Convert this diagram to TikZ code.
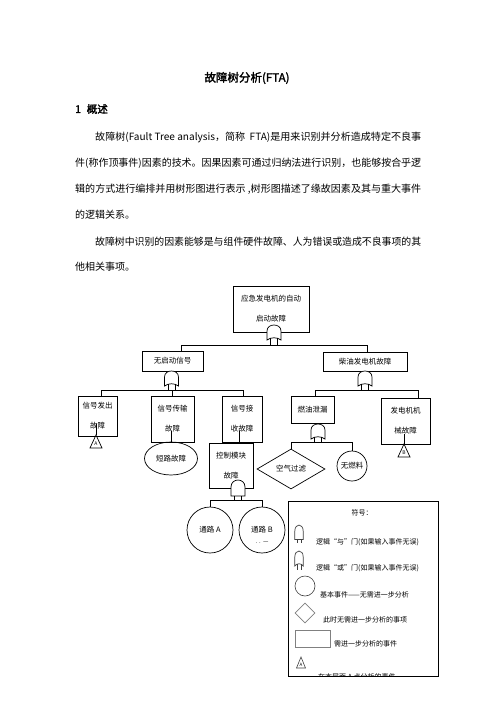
\documentclass[tikz,border=0pt]{standalone}
\usepackage{fontspec}
\usepackage{graphicx}
\setmainfont[AutoFakeBold=2]{Noto Sans CJK SC}
\usetikzlibrary{shapes.geometric,calc}
\tikzset{
  ln/.style={line width=0.7pt},
  box/.style={draw, line width=0.7pt, inner sep=0pt, align=center, font=\fontsize{7.5}{20}\selectfont},
  lbl/.style={inner sep=0pt, font=\fontsize{7.5}{9}\selectfont},
  para/.style={anchor=west, inner sep=0pt, font=\fontsize{10}{12}\selectfont},
  lgtext/.style={anchor=west, inner sep=0pt, font=\fontsize{7}{8}\selectfont},
  orgate/.pic={
    \draw[line width=0.7pt, fill=white] (-7,15) -- (-7,6) .. controls (-7,-2) and (7,-2) .. (7,6) -- (7,15) .. controls (3,12) and (-3,12) .. cycle;
    \draw[line width=0.7pt] (-3.5,13.4) -- (-3.5,19) (3.5,13.4) -- (3.5,19);
    \coordinate (-l) at (-3.5,19);
    \coordinate (-r) at (3.5,19);
  },
  andgate/.pic={
    \draw[line width=0.7pt, fill=white] (-7,16) -- (-7,7) .. controls (-7,-2.3) and (7,-2.3) .. (7,7) -- (7,16) -- cycle;
    \draw[line width=0.7pt] (-3.5,16) -- (-3.5,20) (3.5,16) -- (3.5,20);
    \coordinate (-l) at (-3.5,20);
    \coordinate (-r) at (3.5,20);
  }
}
\begin{document}
\begin{tikzpicture}[x=1pt,y=-1pt]
\useasboundingbox[fill=white] (0,0) rectangle (496,702);

% ---------- text ----------
\node[inner sep=0pt, font={\fontsize{11.5}{14}\selectfont\bfseries}] (title) at (247,78) {故障树分析(FTA)};
\node[anchor=west, inner sep=0pt, font={\fontsize{10.5}{12}\selectfont\bfseries}] (head) at (75,109) {1\hspace{0.55em}概述};
\node[para] (p1) at (95,137) {\resizebox{326pt}{\height}{故障树(Fault Tree analysis，简称\ \ FTA)是用来识别并分析造成特定不良事}};
\node[para] (p2) at (75,163) {\resizebox{346pt}{\height}{件(称作顶事件)因素的技术。因果因素可通过归纳法进行识别，也能够按合乎逻}};
\node[para] (p3) at (75,189) {\resizebox{346pt}{\height}{辑的方式进行编排并用树形图进行表示 ,树形图描述了缘故因素及其与重大事件}};
\node[para] (p4) at (75,215) {的逻辑关系。};
\node[para] (p5) at (95,242) {\resizebox{326pt}{\height}{故障树中识别的因素能够是与组件硬件故障、人为错误或造成不良事项的其}};
\node[para] (p6) at (75,267) {他相关事项。};

% ---------- boxes ----------
\node[box, minimum width=76, minimum height=46] (top) at (271,309) {应急发电机的自动\\启动故障};
\node[box, minimum width=61, minimum height=20] (nosig) at (172.5,361) {无启动信号};
\node[box, minimum width=84, minimum height=19] (diesel) at (365,361.5) {柴油发电机故障};
\node[box, minimum width=39, minimum height=40] (sigout) at (97.5,416) {信号发出\\故障};
\node[box, minimum width=43, minimum height=46] (sigtx) at (172.5,419) {信号传输\\故障};
\node[box, minimum width=40, minimum height=46] (sigrx) at (242,419) {信号接\\收故障};
\node[box, minimum width=44, minimum height=45] (ctrl) at (231,465.5) {控制模块\\故障};
\node[box, minimum width=43, minimum height=27] (fuel) at (312.5,409.5) {燃油泄漏};
\node[box, minimum width=49, minimum height=46] (gen) at (405.5,421) {发电机机\\械故障};

% ---------- basic events ----------
\node[draw, ln, ellipse, minimum width=53, minimum height=33, inner sep=0pt, font=\fontsize{7.5}{9}\selectfont] (short) at (171,458.5) {短路故障};
\node[draw, ln, diamond, minimum width=68, minimum height=40, inner sep=0pt, font=\fontsize{7.5}{9}\selectfont] (air) at (291,469) {空气过滤};
\node[draw, ln, circle, minimum size=30, inner sep=0pt, font=\fontsize{7.5}{9}\selectfont] (nofuel) at (352,466) {无燃料};
\node[draw, ln, circle, minimum size=46, inner sep=0pt, font=\fontsize{7.5}{9}\selectfont] (pathA) at (210,530) {通路 A};
\node[draw, ln, circle, minimum size=46, inner sep=0pt, font=\fontsize{7.5}{9}\selectfont] (pathB) at (262,530) {通路 B};
\node[inner sep=0pt, font=\fontsize{6}{7}\selectfont] (pathBx) at (262,543) {. .\ \,—};

% ---------- transfer triangles ----------
\coordinate (triA) at (96,435);
\draw[ln] (triA) -- ++(6,13) -- ++(-12,0) -- cycle;
\node[inner sep=0pt, font=\fontsize{5}{6}\selectfont] (triAl) at (96,444) {A};
\coordinate (triB) at (404,444);
\draw[ln] (triB) -- ++(6,13) -- ++(-12,0) -- cycle;
\node[inner sep=0pt, font=\fontsize{5}{6}\selectfont] (triBl) at (404,453) {B};

% ---------- stems from boxes ----------
\coordinate (s1) at (171,431);
\draw[ln] (s1) -- (short.north);
\coordinate (s2) at (239,431);
\draw[ln] (s2) -- (s2 |- ctrl.north);
\coordinate (s3) at (96,424);
\draw[ln] (s3) -- (triA);
\coordinate (s4) at (404,434);
\draw[ln] (s4) -- (triB);

% ---------- gates ----------
\pic (g1) at (274,325) {orgate};
\pic (g2) at (171.5,371) {orgate};
\pic (g3) at (365,371) {orgate};
\pic (g4) at (318,424) {orgate};
\pic (g5) at (238,480) {andgate};

% ---------- connectors ----------
\coordinate (bar1L) at (181,345);
\coordinate (bar1R) at (367,345);
\draw[ln] (bar1L |- nosig.north) -- (bar1L) -- (bar1R) -- (bar1R |- diesel.north);
\draw[ln] (g1-l) -- (g1-l |- bar1L) (g1-r) -- (g1-r |- bar1L);

\coordinate (bar2L) at (101,390);
\coordinate (bar2R) at (243,390);
\draw[ln] (bar2L |- sigout.north) -- (bar2L) -- (bar2R) -- (bar2R |- sigrx.north);
\draw[ln] (sigtx.north |- bar2L) -- (sigtx.north);
\draw[ln] (g2-l) -- (g2-l |- bar2L) (g2-r) -- (g2-r |- bar2L);

\coordinate (bar3L) at (315,390);
\coordinate (bar3R) at (418,390);
\draw[ln] (bar3L |- fuel.north) -- (bar3L) -- (bar3R) -- (bar3R |- gen.north);
\draw[ln] (g3-l) -- (g3-l |- bar3L) (g3-r) -- (g3-r |- bar3L);

\coordinate (bar4L) at (291,442);
\coordinate (bar4R) at (352,442);
\draw[ln] (air.north) -- (bar4L) -- (bar4R) -- (nofuel.north);
\draw[ln] (g4-l) -- (g4-l |- bar4L) (g4-r) -- (g4-r |- bar4L);

\coordinate (bar5L) at (210,500);
\coordinate (bar5R) at (262,500);
\draw[ln] (pathA.north) -- (bar5L) -- (bar5R) -- (pathB.north);
\draw[ln] (g5-l) -- (g5-l |- bar5L) (g5-r) -- (g5-r |- bar5L);

% ---------- legend ----------
\begin{scope}
\clip (288,501) rectangle (438,675.5);
\node[lgtext] (lg6) at (318,676.5) {在本层面 A 点分析的事件};
\end{scope}
\node[draw, line width=0.8pt, minimum width=150, minimum height=175, inner sep=0pt, anchor=north west] (legend) at (288,501) {};
\node[inner sep=0pt, font=\fontsize{7}{8}\selectfont] (lgt) at (362,513) {符号：};
\begin{scope}[black!75]
\pic[xscale=0.6, yscale=0.9] (la) at (299,525) {andgate};
\pic[xscale=0.6, yscale=1.0] (lo) at (299,551) {orgate};
\end{scope}
\node[lgtext] (lg1) at (316,542) {逻辑“与”门(如果输入事件无误)};
\node[lgtext] (lg2) at (316,568) {逻辑“或”门(如果输入事件无误)};
\node[draw=black!75, line width=0.6pt, circle, minimum size=20, inner sep=0pt] (lc) at (305,586) {};
\node[lgtext] (lg3) at (320,595) {基本事件——无需进一步分析};
\node[draw=black!50, line width=0.6pt, diamond, minimum width=20, minimum height=20, inner sep=0pt] (ld) at (305,613) {};
\node[lgtext] (lg4) at (323,620) {此时无需进一步分析的事项};
\node[draw=black!50, line width=0.6pt, minimum width=35, minimum height=17, inner sep=0pt] (lr) at (312.5,638.5) {};
\node[lgtext] (lg5) at (334,644) {需进一步分析的事件};
\coordinate (ltri) at (301,657);
\draw[black!75, line width=0.6pt] (ltri) -- ++(4.5,11) -- ++(-9,0) -- cycle;
\node[inner sep=0pt, font=\fontsize{4.5}{5}\selectfont] (ltril) at (301,664.5) {A};
\end{tikzpicture}
\end{document}
